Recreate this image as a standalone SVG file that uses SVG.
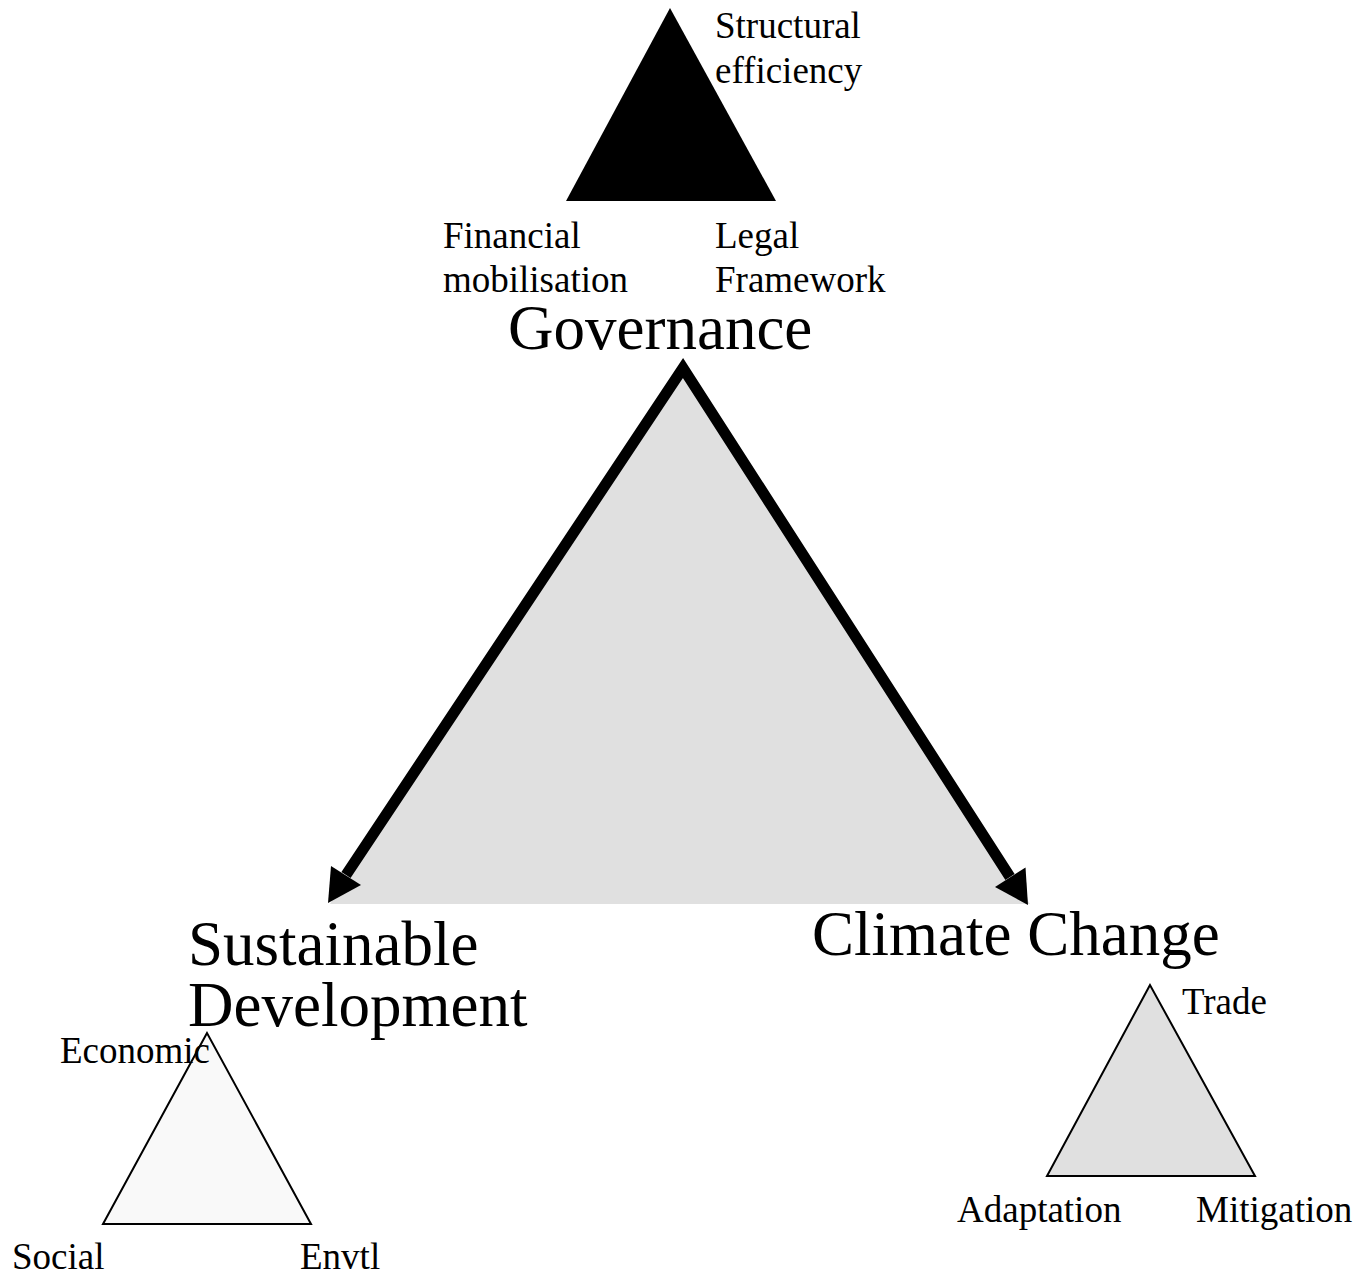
<svg xmlns="http://www.w3.org/2000/svg" width="1363" height="1283" viewBox="0 0 1363 1283">
  <style>
    text { font-family: "Liberation Serif", "Times New Roman", serif; fill: #000; }
    .sm { font-size: 37px; }
    .lg { font-size: 63px; }
    .tri { stroke: #000; stroke-width: 2; stroke-linejoin: miter; }
  </style>
  <rect width="1363" height="1283" fill="#fff"/>

  <g id="main-triangle">
    <polygon points="683,362 330,904 1030,904" fill="#e0e0e0"/>
  </g>

  <g id="connectors">
    <path d="M 346 875 L 683 368 L 1010 877" fill="none" stroke="#000" stroke-width="11" stroke-linejoin="miter"/>
    <polygon points="328,903 361,885 331,866" fill="#000"/>
    <polygon points="1028,905 1025.5,867.5 995,887" fill="#000"/>
  </g>

  <g id="governance">
    <polygon points="670,8 566,201 776,201" fill="#000"/>
    <text class="sm" x="715" y="38">Structural</text>
    <text class="sm" x="715" y="83">efficiency</text>
    <text class="sm" x="443" y="248">Financial</text>
    <text class="sm" x="443" y="292">mobilisation</text>
    <text class="sm" x="715" y="248">Legal</text>
    <text class="sm" x="715" y="292">Framework</text>
    <text class="lg" x="508" y="349">Governance</text>
  </g>

  <g id="sustainable-development">
    <text class="lg" x="188" y="965">Sustainable</text>
    <text class="lg" x="188" y="1026">Development</text>
    <polygon class="tri" points="207,1033 103,1224 311,1224" fill="#f9f9f9"/>
    <text class="sm" x="60" y="1063">Economic</text>
    <text class="sm" x="12" y="1269">Social</text>
    <text class="sm" x="300" y="1269">Envtl</text>
  </g>

  <g id="climate-change">
    <text class="lg" x="812" y="955">Climate Change</text>
    <polygon class="tri" points="1150,985 1047,1176 1255,1176" fill="#e0e0e0"/>
    <text class="sm" x="1182" y="1014">Trade</text>
    <text class="sm" x="957" y="1222">Adaptation</text>
    <text class="sm" x="1196" y="1222">Mitigation</text>
  </g>
</svg>
